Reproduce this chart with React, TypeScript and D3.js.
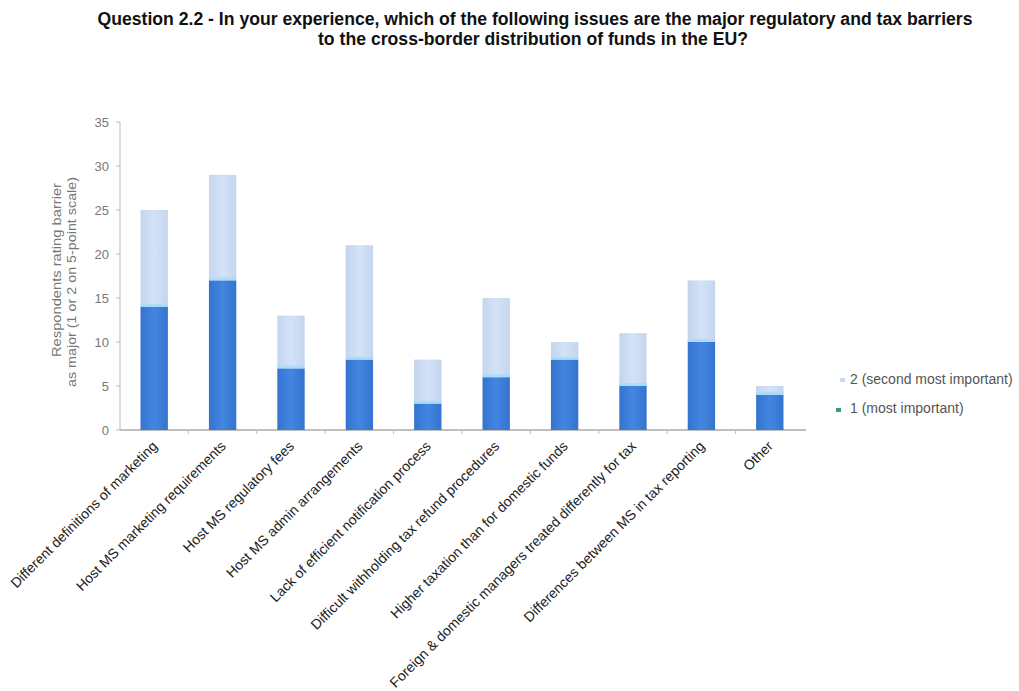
import React from "react";
import * as d3 from "d3";

const categories = [
  "Different definitions of marketing",
  "Host MS marketing requirements",
  "Host MS regulatory fees",
  "Host MS admin arrangements",
  "Lack of efficient notification process",
  "Difficult withholding tax refund procedures",
  "Higher taxation than for domestic funds",
  "Foreign & domestic managers treated differently for tax",
  "Differences between MS in tax reporting",
  "Other",
];
const mostImportant = [14, 17, 7, 8, 3, 6, 8, 5, 10, 4];
const secondMostImportant = [11, 12, 6, 13, 5, 9, 2, 6, 7, 1];
const yTicks = [0, 5, 10, 15, 20, 25, 30, 35];
const seriesNames = ["1 (most important)", "2 (second most important)"];

const W = 1019;
const H = 691;
const margin = { left: 120, right: 215, top: 122, bottom: 261 };

export default function App() {
  const x = d3
    .scaleBand<string>()
    .domain(categories)
    .range([margin.left, W - margin.right])
    .paddingInner(0.6)
    .paddingOuter(0.3);
  const y = d3.scaleLinear().domain([0, 35]).range([H - margin.bottom, margin.top]);
  const font = "Arial, 'Liberation Sans', sans-serif";
  const bw = x.bandwidth();

  return (
    <svg
      width={W}
      height={H}
      style={{ position: "absolute", left: 0, top: 0, background: "#fff" }}
      fontFamily={font}
    >
      <defs>
        <linearGradient id="g1" x1="0" x2="1" y1="0" y2="0">
          <stop offset="0" stopColor="#3573cf" />
          <stop offset="0.5" stopColor="#4286e0" />
          <stop offset="1" stopColor="#3573cf" />
        </linearGradient>
        <linearGradient id="g2" x1="0" x2="1" y1="0" y2="0">
          <stop offset="0" stopColor="#c4d5ef" />
          <stop offset="0.5" stopColor="#d3e2f7" />
          <stop offset="1" stopColor="#c4d5ef" />
        </linearGradient>
      </defs>
      <text x={535} y={25} textAnchor="middle" fontSize={17.5} fontWeight="bold" fill="#111"
        textLength={875} lengthAdjust="spacingAndGlyphs">
        Question 2.2 - In your experience, which of the following issues are the major regulatory and tax barriers
      </text>
      <text x={533} y={45} textAnchor="middle" fontSize={17.5} fontWeight="bold" fill="#111"
        textLength={430} lengthAdjust="spacingAndGlyphs">
        to the cross-border distribution of funds in the EU?
      </text>

      {/* y axis */}
      <line x1={margin.left} x2={margin.left} y1={y(35)} y2={y(0)} stroke="#bbb" />
      <line x1={margin.left} x2={W - margin.right + 2} y1={y(0)} y2={y(0)} stroke="#aaa" strokeWidth={1.5} />
      {yTicks.map((t) => (
        <g key={t}>
          <line x1={margin.left - 4} x2={margin.left} y1={y(t)} y2={y(t)} stroke="#bbb" />
          <text x={margin.left - 11} y={y(t) + 5} textAnchor="end" fontSize={13} fill="#777">
            {t}
          </text>
        </g>
      ))}
      {categories.map((c, i) =>
        i > 0 ? (
          <line
            key={"t" + i}
            x1={(x(c) as number) - (x.step() - bw) / 2}
            x2={(x(c) as number) - (x.step() - bw) / 2}
            y1={y(0)}
            y2={y(0) + 4}
            stroke="#bbb"
          />
        ) : null
      )}
      <text transform="translate(61, 270) rotate(-90)" textAnchor="middle" fontSize={12.5} fill="#777"
        textLength={174} lengthAdjust="spacingAndGlyphs">
        Respondents rating barrier
      </text>
      <text transform="translate(76, 282) rotate(-90)" textAnchor="middle" fontSize={12.5} fill="#777"
        textLength={210} lengthAdjust="spacingAndGlyphs">
        as major (1 or 2 on 5-point scale)
      </text>

      {/* bars */}
      {categories.map((c, i) => {
        const x0 = x(c) as number;
        const v1 = mostImportant[i];
        const v2 = secondMostImportant[i];
        return (
          <g key={c}>
            <rect x={x0} y={y(v1 + v2)} width={bw} height={y(v1) - y(v1 + v2)} fill="url(#g2)" />
            <rect x={x0} y={y(v1)} width={bw} height={y(0) - y(v1)} fill="url(#g1)" />
            <rect x={x0} y={y(v1) - 3} width={bw} height={3} fill="#a9dcf8" opacity={0.9} />
          </g>
        );
      })}

      {/* x labels */}
      {categories.map((c) => {
        const cx = (x(c) as number) + bw / 2 + 4;
        const cy = y(0) + 17;
        return (
          <text
            key={"l" + c}
            transform={`translate(${cx}, ${cy}) rotate(-45)`}
            textAnchor="end"
            fontSize={14}
            fill="#222"
          >
            {c}
          </text>
        );
      })}

      {/* legend */}
      <g fontSize={14} fill="#555">
        <rect x={840} y={378} width={5} height={4} fill="#c8daf3" />
        <text x={850} y={384}>{seriesNames[1]}</text>
        <rect x={836} y={408} width={5} height={4} fill="#3b9a8a" />
        <text x={850} y={413}>{seriesNames[0]}</text>
      </g>
    </svg>
  );
}
